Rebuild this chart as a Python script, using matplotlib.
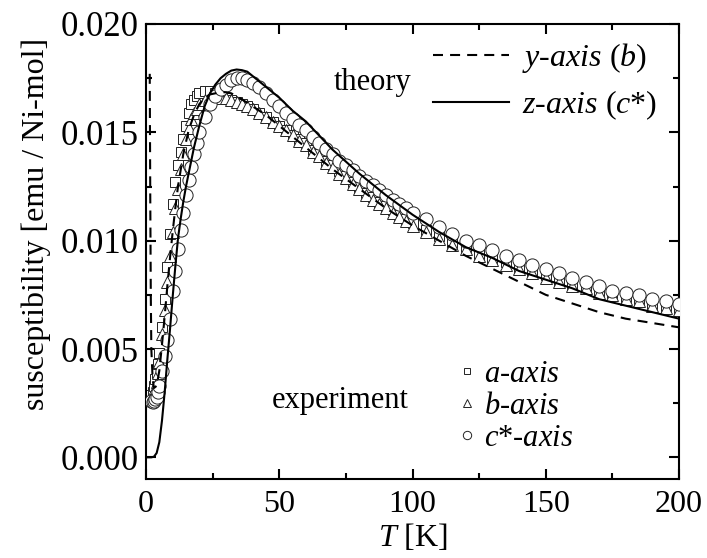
import matplotlib
matplotlib.use("Agg")
import matplotlib.pyplot as plt

# experiment: temperature grid and susceptibility per crystal axis
T_exp = [2, 2.5, 3, 3.5, 4, 4.5, 5,
         6, 7, 8, 9, 10, 11, 12, 13, 14, 15, 16, 17, 18, 19, 20,
         22, 24, 26, 28, 30, 32, 34, 36, 38, 40,
         42.5, 45, 47.5, 50, 52.5, 55, 57.5, 60, 62.5, 65, 67.5, 70,
         72.5, 75, 77.5, 80, 82.5, 85, 87.5, 90, 92.5, 95, 97.5, 100,
         105, 110, 115, 120, 125, 130, 135, 140, 145, 150,
         155, 160, 165, 170, 175, 180, 185, 190, 195, 200]

chi_a = [0.0029, 0.0030, 0.0033, 0.0036, 0.0039, 0.0043, 0.0048,
         0.0060, 0.0073, 0.0088, 0.0103, 0.0117, 0.0127, 0.0135, 0.0141, 0.0147,
         0.0153, 0.0159, 0.0163, 0.0165, 0.0167, 0.0168,
         0.0169, 0.0169, 0.0168, 0.0167, 0.0166, 0.0165, 0.0164, 0.0163, 0.0162, 0.0161,
         0.0159, 0.0157, 0.0155, 0.0153, 0.0151, 0.0149, 0.0147, 0.0145, 0.0142, 0.0140,
         0.0137, 0.0135, 0.0132, 0.0130, 0.0127, 0.0125, 0.0122, 0.0120, 0.0118, 0.0116,
         0.0114, 0.0112, 0.0110, 0.0108,
         0.0105, 0.0102, 0.0099, 0.0097, 0.0094, 0.0092, 0.0090, 0.0088, 0.0086, 0.0084,
         0.0082, 0.0080, 0.0079, 0.0077, 0.0076, 0.0074, 0.0073, 0.0071, 0.0070, 0.0069]

chi_b = [0.0027, 0.0028, 0.0030, 0.0032, 0.0035, 0.0039, 0.0044,
         0.0057, 0.0068, 0.0081, 0.0093, 0.0104, 0.0115, 0.0124, 0.0133, 0.0140,
         0.0147, 0.0152, 0.0156, 0.0159, 0.0161, 0.0163,
         0.0165, 0.0166, 0.01665, 0.0166, 0.01658, 0.0165, 0.0164, 0.01632, 0.0162, 0.0161,
         0.0159, 0.0157, 0.0155, 0.0153, 0.0151, 0.0149, 0.0146, 0.0144, 0.0141, 0.0139,
         0.0136, 0.0134, 0.0131, 0.0129, 0.0126, 0.0124, 0.0121, 0.0119, 0.0117, 0.0115,
         0.0113, 0.0111, 0.0109, 0.0107,
         0.0104, 0.0101, 0.0098, 0.0096, 0.0093, 0.0091, 0.0089, 0.0087, 0.0085, 0.0083,
         0.0081, 0.0079, 0.0078, 0.0076, 0.0075, 0.0073, 0.0072, 0.0070, 0.0069, 0.0068]

chi_c = [0.0026, 0.00255, 0.0026, 0.0027, 0.0028, 0.0030, 0.0033,
         0.0040, 0.0047, 0.0054, 0.0064, 0.0077, 0.0086, 0.0096, 0.0105, 0.0113,
         0.0121, 0.0128, 0.0134, 0.0140, 0.0145, 0.0150,
         0.0157, 0.0163, 0.0167, 0.0170, 0.0172, 0.0174, 0.0175, 0.0175, 0.0174, 0.0173,
         0.0171, 0.0168, 0.0165, 0.0162, 0.0159, 0.0156, 0.01535, 0.0151, 0.0148, 0.0145,
         0.01425, 0.0140, 0.0137, 0.0135, 0.01325, 0.0130, 0.01275, 0.01255, 0.01235, 0.01212,
         0.0119, 0.0117, 0.0115, 0.0113,
         0.0110, 0.01065, 0.0103, 0.0100, 0.0098, 0.00955, 0.0093, 0.0091, 0.0089, 0.0087,
         0.0085, 0.0083, 0.0081, 0.0079, 0.0077, 0.0076, 0.0075, 0.0073, 0.0072, 0.0071]

# theory curves
T_y = [1.4, 1.6, 1.8, 2.0, 2.5, 3, 4, 5, 6, 7, 8, 9, 10, 11, 12,
       14, 16, 18, 20, 22, 24, 26, 28, 30, 32, 35, 40, 45, 50,
       60, 70, 80, 90, 100, 110, 120, 130, 140, 150, 160, 170, 180, 190, 200]
chi_y = [0.0177, 0.0120, 0.0075, 0.0050, 0.0036, 0.0032,
         0.0033, 0.0040, 0.0052, 0.0065, 0.0079, 0.0092, 0.0104, 0.0115, 0.0125,
         0.0140, 0.0151, 0.0158, 0.0163, 0.0166, 0.01675, 0.0168, 0.01685, 0.01685, 0.0168,
         0.0166, 0.0162, 0.0158, 0.0153,
         0.0143, 0.0133, 0.0124, 0.0115, 0.0107, 0.0100, 0.0093, 0.0087, 0.0081, 0.0075,
         0.0071, 0.0067, 0.0064, 0.0062, 0.0060]

T_z = [0, 2, 3, 4, 5, 6, 7, 8, 9, 10, 11, 12, 13, 14, 15, 16,
       18, 20, 22, 24, 26, 28, 30, 32, 34, 36, 38, 40, 45, 50, 55, 60,
       70, 80, 90, 100, 110, 120, 130, 140, 150, 160, 170, 180, 190, 200]
chi_z = [0.0, 0.0, 0.00003, 0.0002, 0.0007, 0.0017, 0.0030, 0.0045, 0.0059, 0.0074,
         0.0088, 0.0101, 0.0110, 0.0118, 0.0125, 0.0131,
         0.0143, 0.0153, 0.0162, 0.0168, 0.0172, 0.0175, 0.0177, 0.01785, 0.0179, 0.01787,
         0.0178, 0.0176, 0.0171, 0.0166, 0.0160, 0.0155,
         0.0142, 0.0131, 0.0121, 0.0112, 0.0104, 0.0097, 0.0092, 0.0086, 0.0082, 0.0078,
         0.0073, 0.0070, 0.0067, 0.0064]

plt.rcParams['font.family'] = ['Liberation Serif', 'DejaVu Serif']
plt.rcParams['mathtext.fontset'] = 'custom'
plt.rcParams['mathtext.rm'] = 'Liberation Serif'
plt.rcParams['mathtext.it'] = 'Liberation Serif:italic'
FS = 22

fig = plt.figure(figsize=(7.07, 5.58), dpi=100)
ax = fig.add_axes([146 / 707, 1 - 479 / 558, 533 / 707, 455 / 558])

mk = dict(ls='none', mfc='white', mec='#222222', mew=0.7)
ax.plot(T_exp, chi_a, marker='s', ms=7.5, zorder=2, **mk)
ax.plot(T_exp, chi_b, marker='^', ms=9, zorder=3, **mk)
ax.plot(T_exp, chi_c, marker='o', ms=9.5, zorder=4, **mk)

l_y, = ax.plot(T_y, chi_y, color='black', lw=1.5, dashes=(4.8, 3.4), zorder=5)
l_z, = ax.plot(T_z, chi_z, color='black', lw=1.5, zorder=6)

ax.set_xlim(0, 200)
ax.set_ylim(-0.001, 0.020)
ax.set_xticks([0, 50, 100, 150, 200])
ax.set_xticks([25, 75, 125, 175], minor=True)
ax.set_yticks([0.0, 0.005, 0.010, 0.015, 0.020])
ax.set_yticks([0.0025, 0.0075, 0.0125, 0.0175], minor=True)
ax.set_yticklabels(['0.000', '0.005', '0.010', '0.015', '0.020'])
ax.tick_params(which='both', direction='in', top=True, right=True, width=1.5)
ax.tick_params(which='major', length=7)
ax.tick_params(which='minor', length=4)
ax.tick_params(axis='x', pad=8, labelsize=23)
ax.tick_params(axis='y', pad=5, labelsize=25)
for s in ax.spines.values():
    s.set_linewidth(1.5)

ax.set_xlabel('$T$ [K]', fontsize=23, labelpad=2)
ax.set_ylabel('susceptibility [emu / Ni-mol]', fontsize=23)
ax.yaxis.set_label_coords(-0.178, 0.56)

# theory legend
leg1 = ax.legend([l_y, l_z], ['$y$-$axis$ ($b$)', '$z$-$axis$ ($c$*)'],
                 loc='upper left', bbox_to_anchor=(0.538, 0.962), frameon=False,
                 fontsize=23, handlelength=2.4, handletextpad=0.4,
                 labelspacing=0.4, borderpad=0, borderaxespad=0)
ax.add_artist(leg1)
ax.text(0.425, 0.871, 'theory', transform=ax.transAxes, fontsize=FS,
        ha='center', va='center')

# experiment legend
h_a = plt.Line2D([], [], marker='s', ms=5, **mk)
h_b = plt.Line2D([], [], marker='^', ms=6, **mk)
h_c = plt.Line2D([], [], marker='o', ms=6, **mk)
ax.legend([h_a, h_b, h_c], ['$a$-$axis$', '$b$-$axis$', '$c$*-$axis$'],
          loc='upper left', bbox_to_anchor=(0.585, 0.262), frameon=False,
          fontsize=FS, handlelength=0.6, handletextpad=0.25,
          labelspacing=0.1, borderpad=0, borderaxespad=0)
ax.text(0.365, 0.173, 'experiment', transform=ax.transAxes, fontsize=FS,
        ha='center', va='center')

fig.savefig('out.png', dpi=100)
